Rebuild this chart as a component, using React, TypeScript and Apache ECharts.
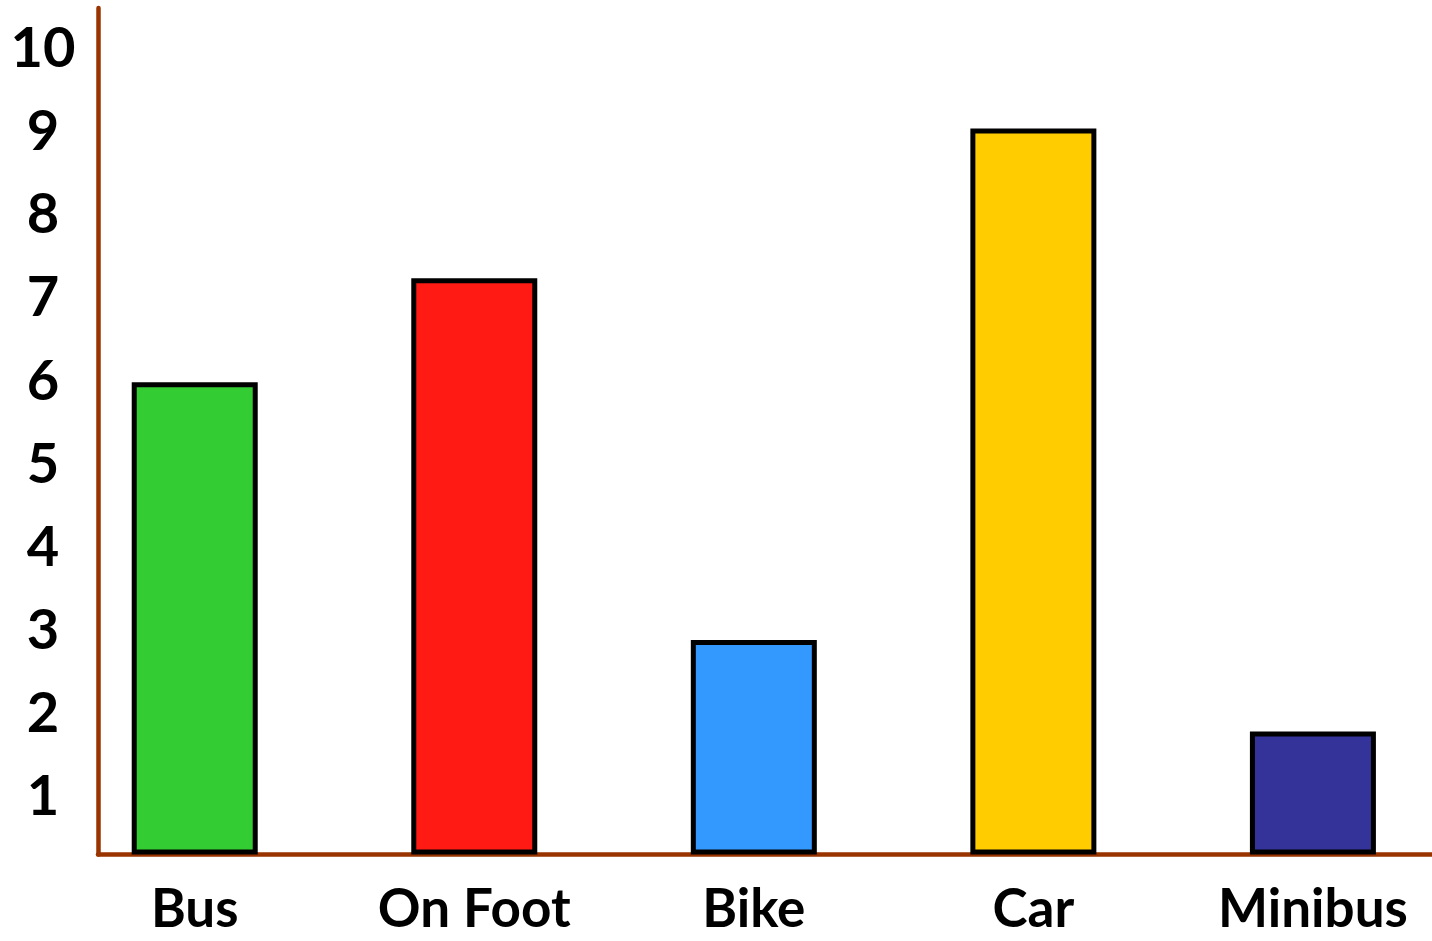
import React, { useEffect, useRef } from "react";
import * as echarts from "echarts";

const categories = ["Bus", "On Foot", "Bike", "Car", "Minibus"];
const values = [5.95, 7.2, 2.85, 9.0, 1.75];
const barColors = ["#33cc33", "#ff1a14", "#3399ff", "#ffcc00", "#333399"];
const yTickValues = [1, 2, 3, 4, 5, 6, 7, 8, 9, 10];
const categoryIndex = [0, 1, 2, 3, 4];

const AXIS_COLOR = "#993300";
const FONT = "Lato";

export default function App() {
  const ref = useRef<HTMLDivElement>(null);
  useEffect(() => {
    const chart = echarts.init(ref.current!, null, { renderer: "svg" });
    chart.setOption({
      animation: false,
      backgroundColor: "#ffffff",
      grid: { left: 98, right: 0, top: 8, bottom: 86.5, containLabel: false },
      xAxis: {
        type: "value",
        min: -0.346,
        max: 4.426,
        splitLine: { show: false },
        axisTick: { show: false },
        axisLine: { show: true, onZero: false, lineStyle: { color: AXIS_COLOR, width: 4.5 } },
        axisLabel: {
          customValues: categoryIndex,
          formatter: (v: number) => categories[Math.round(v)] ?? "",
          margin: 29,
          lineHeight: 46,
          fontFamily: FONT,
          fontWeight: 700,
          fontSize: 53,
          color: "#000000",
        },
      },
      yAxis: {
        type: "value",
        min: 0.27,
        max: 10.45,
        startValue: 0.27,
        splitLine: { show: false },
        axisTick: { show: false },
        axisLine: { show: true, onZero: false, lineStyle: { color: AXIS_COLOR, width: 4.5 } },
        axisLabel: {
          customValues: yTickValues,
          align: "center",
          margin: 55,
          fontFamily: FONT,
          fontWeight: 700,
          fontSize: 56,
          color: "#000000",
        },
      },
      series: [
        {
          type: "bar",
          barWidth: 126,
          clip: false,
          data: categoryIndex.map((i) => ({
            value: [i, values[i]],
            itemStyle: { color: barColors[i], borderColor: "#000000", borderWidth: 5 },
          })),
        },
      ],
    });
    return () => chart.dispose();
  }, []);
  return (
    <div
      ref={ref}
      style={{ position: "absolute", left: 0, top: 0, width: 1432, height: 941, background: "#fff" }}
    />
  );
}
